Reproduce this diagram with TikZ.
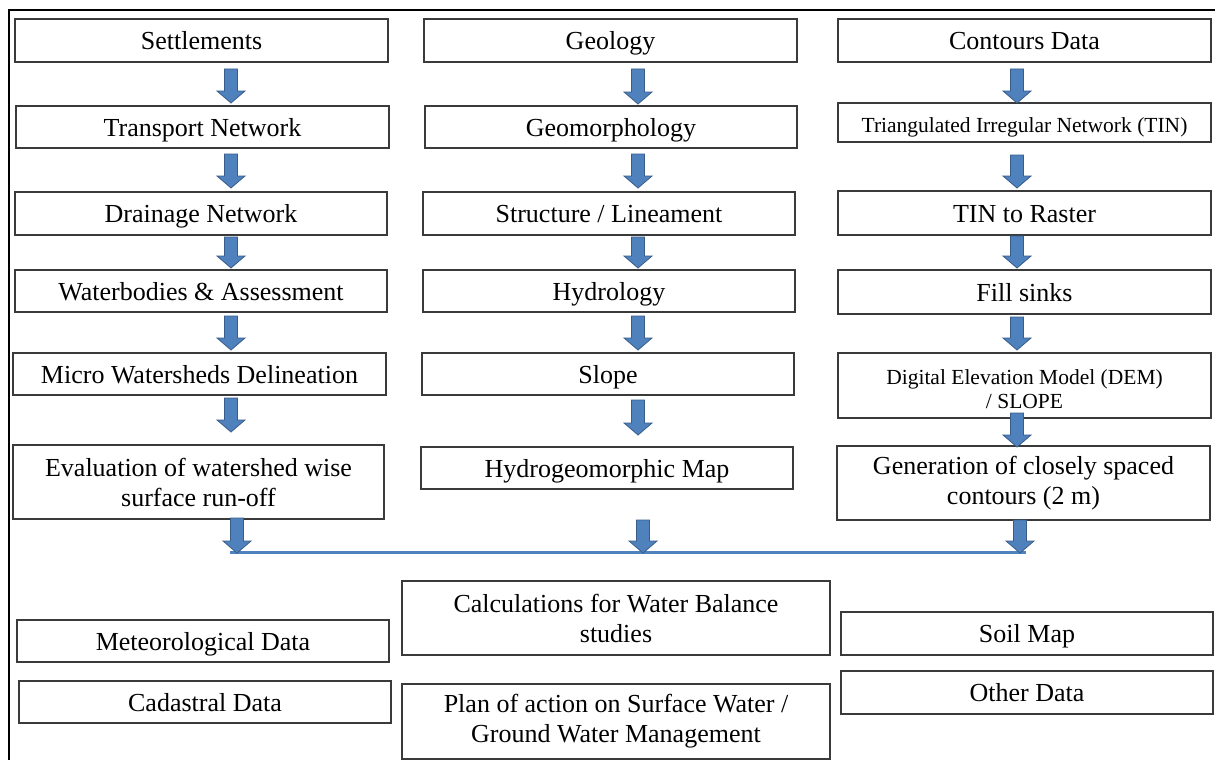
\documentclass[tikz,border=0pt]{standalone}
\usepackage{fontspec}
\setmainfont{Liberation Serif}
\definecolor{arrfill}{HTML}{4F81BD}
\definecolor{arrdraw}{HTML}{385D8A}
\definecolor{boxc}{HTML}{3A3A3A}
\newcommand\blkarrow[3]{%
  \filldraw[arr] (#1-6.5,#2) -- (#1+6.5,#2) -- (#1+6.5,#3-12) -- (#1+14,#3-12)
    -- (#1,#3) -- (#1-14,#3-12) -- (#1-6.5,#3-12) -- cycle;}
\tikzset{
  box/.style={draw=boxc, line width=1.3pt, fill=white, inner sep=0pt, align=center,
    font=\fontsize{26}{30}\selectfont},
  oneline/.style={text height=18pt, text depth=0pt},
  smalltxt/.style={font=\fontsize{21.5}{24}\selectfont},
  arr/.style={fill=arrfill, draw=arrdraw, line width=0.8pt, line join=miter},
  joinline/.style={draw=arrfill, line width=3pt},
  frameline/.style={draw=black, line width=2pt},
}
\begin{document}
\begin{tikzpicture}[x=1pt,y=-1pt]
\useasboundingbox (0,0) rectangle (1215,760);
\fill[white] (0,0) rectangle (1215,760);
\draw[frameline] (8.5,760) -- (8.5,10) -- (1215,10);

% column 1
\node[box, oneline, minimum width=373pt, minimum height=43pt] (set) at (201.5,40.5) {Settlements};
\node[box, oneline, minimum width=373pt, minimum height=42pt] (trn) at (202.5,127) {Transport Network};
\node[box, oneline, minimum width=372pt, minimum height=43pt] (drn) at (201,213.5) {Drainage Network};
\node[box, oneline, minimum width=372pt, minimum height=42pt] (wtr) at (201,291) {Waterbodies \& Assessment};
\node[box, oneline, minimum width=373pt, minimum height=42pt] (mic) at (199.5,374) {Micro Watersheds Delineation};
\node[box, minimum width=371pt, minimum height=74pt] (eva) at (198.5,482) {Evaluation of watershed wise\\surface run-off};
\node[box, oneline, minimum width=372pt, minimum height=42pt] (met) at (203,641) {Meteorological Data};
\node[box, oneline, minimum width=372pt, minimum height=42pt] (cad) at (205,702) {Cadastral Data};

% column 2
\node[box, oneline, minimum width=373pt, minimum height=43pt] (geo) at (610.5,40.5) {Geology};
\node[box, oneline, minimum width=372pt, minimum height=42pt] (gmo) at (611,127) {Geomorphology};
\node[box, oneline, minimum width=372pt, minimum height=43pt] (str) at (609,213.5) {Structure / Lineament};
\node[box, oneline, minimum width=372pt, minimum height=42pt] (hyd) at (609,291) {Hydrology};
\node[box, oneline, minimum width=372pt, minimum height=42pt] (slp) at (608,374) {Slope};
\node[box, oneline, minimum width=372pt, minimum height=42pt] (hgm) at (607,468) {Hydrogeomorphic Map};
\node[box, minimum width=428pt, minimum height=74pt] (cal) at (616,618) {Calculations for Water Balance\\studies};
\node[box, minimum width=428pt, minimum height=75pt] (pln) at (616,721.5) {Plan of action on Surface Water /\\Ground Water Management};

% column 3
\node[box, oneline, minimum width=373pt, minimum height=43pt] (con) at (1024.5,40.5) {Contours Data};
\node[box, smalltxt, text height=19pt, text depth=0pt, minimum width=373pt, minimum height=39pt] (tin) at (1024.5,122.5) {Triangulated Irregular Network (TIN)};
\node[box, oneline, minimum width=373pt, minimum height=44pt] (ras) at (1024.5,213) {TIN to Raster};
\node[box, oneline, minimum width=373pt, minimum height=44pt] (fil) at (1024.5,292) {Fill sinks};
\node[box, smalltxt, minimum width=373pt, minimum height=65pt] (dem) at (1024.5,385.5) {\rule{0pt}{23pt}Digital Elevation Model (DEM)\\/ SLOPE};
\node[box, minimum width=373pt, minimum height=74pt] (gen) at (1023.5,483) {Generation of closely spaced\\contours (2 m)};
\node[box, oneline, minimum width=372pt, minimum height=43pt] (soi) at (1027,633.5) {Soil Map};
\node[box, oneline, minimum width=372pt, minimum height=43pt] (oth) at (1027,692.5) {Other Data};

% arrows column 1
\blkarrow{231}{69}{103}
\blkarrow{231}{154}{188}
\blkarrow{231}{237}{268}
\blkarrow{231}{316}{350}
\blkarrow{231}{398}{432}
% arrows column 2
\blkarrow{638}{69}{104}
\blkarrow{638}{154}{188}
\blkarrow{638}{237}{268}
\blkarrow{638}{316}{350}
\blkarrow{638}{400}{435}
% arrows column 3
\blkarrow{1017}{69}{103}
\blkarrow{1017}{155}{188}
\blkarrow{1017}{236}{268}
\blkarrow{1017}{317}{350}
\blkarrow{1017}{413}{447}

% joining line and arrows
\draw[joinline] (230,552) -- (1026,552);
\blkarrow{237}{518}{553}
\blkarrow{643}{520}{553}
\blkarrow{1020}{520}{553}
\end{tikzpicture}
\end{document}
